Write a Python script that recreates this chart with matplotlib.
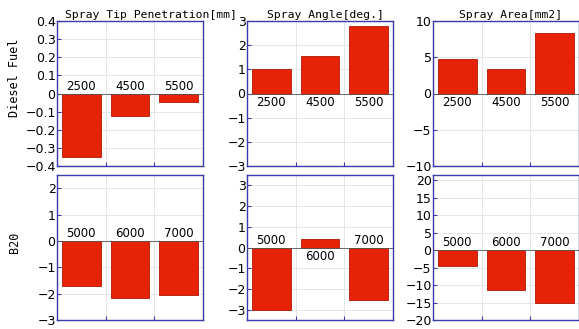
"""Spray characteristics: change vs. baseline for Diesel Fuel and B20."""

import matplotlib
matplotlib.use("Agg")
import matplotlib.pyplot as plt
import numpy as np

# ---- data -------------------------------------------------------------
titles = ["Spray Tip Penetration[mm]", "Spray Angle[deg.]", "Spray Area[mm2]"]
row_labels = ["Diesel Fuel", "B20"]

diesel_cats = ["2500", "4500", "5500"]
b20_cats = ["5000", "6000", "7000"]

diesel_tip = [-0.35, -0.125, -0.045]
diesel_angle = [1.03, 1.55, 2.8]
diesel_area = [4.8, 3.4, 8.3]

b20_tip = [-1.72, -2.15, -2.07]
b20_angle = [-3.0, 0.4, -2.55]
b20_area = [-4.6, -11.5, -15.0]

ylims = [[(-0.4, 0.4), (-3, 3), (-10, 10)],
         [(-3, 2.5), (-3.5, 3.5), (-20, 21.5)]]
yticks = [[np.arange(-0.4, 0.41, 0.1), np.arange(-3, 4, 1), np.arange(-10, 11, 5)],
          [np.arange(-3, 3, 1), np.arange(-3, 4, 1), np.arange(-20, 21, 5)]]

BAR = "#e62208"
SPINE = "#3a3aa8"

fig = plt.figure(figsize=(5.79, 3.29), dpi=100)
W, H = 579.0, 329.0
lefts = [57, 247, 433]
tops = [21, 175]
aw, ah = 146, 145

data = [[diesel_tip, diesel_angle, diesel_area],
        [b20_tip, b20_angle, b20_area]]
cats = [diesel_cats, b20_cats]
title_x = [0.64, 0.54, 0.53]
label_y = [78, 242]

for r in range(2):
    for c in range(3):
        ax = fig.add_axes([lefts[c] / W, 1 - (tops[r] + ah) / H, aw / W, ah / H])
        vals = data[r][c]
        x = np.arange(1, len(vals) + 1)
        ax.bar(x, vals, width=0.8, color=BAR, edgecolor="#b01800",
               linewidth=0.6, zorder=2)
        ax.axhline(0, color="#555555", linewidth=0.6, zorder=3)
        lo, hi = ylims[r][c]
        ax.set_ylim(lo, hi)
        ax.set_xlim(0.5, 3.5)
        ax.set_xticks([1.5, 2.5])
        ax.set_xticklabels([])
        ax.set_yticks(yticks[r][c])
        if c == 0 and r == 0:
            ax.set_yticklabels([f"{t:.1f}".replace("-", "\u2212") if abs(t) > 1e-9 else "0"
                                for t in yticks[r][c]])
        else:
            ax.set_yticklabels([f"{int(round(t))}".replace("-", "\u2212")
                                for t in yticks[r][c]])
        ax.tick_params(axis="both", direction="in", length=3, color=SPINE,
                       labelsize=9, pad=1)
        ax.grid(True, color="#e2e2e2", linewidth=0.6, zorder=0)
        for sp in ax.spines.values():
            sp.set_color(SPINE)
            sp.set_linewidth(1.0)
        span = hi - lo
        for xi, v, lab in zip(x, vals, cats[r]):
            if v < 0:
                ax.text(xi, 0.005 * span, lab, ha="center", va="bottom",
                        fontsize=8.5, zorder=4)
            else:
                ax.text(xi, -0.02 * span, lab, ha="center", va="top",
                        fontsize=8.5, zorder=4)
        if r == 0:
            ax.text(title_x[c], 1.01, titles[c], transform=ax.transAxes,
                    ha="center", va="bottom", fontsize=8.2,
                    family="DejaVu Sans Mono")
    fig.text(15 / W, 1 - label_y[r] / H, row_labels[r], rotation=90,
             ha="center", va="center", fontsize=8.5, family="DejaVu Sans Mono")

fig.savefig("out.png", dpi=100)
